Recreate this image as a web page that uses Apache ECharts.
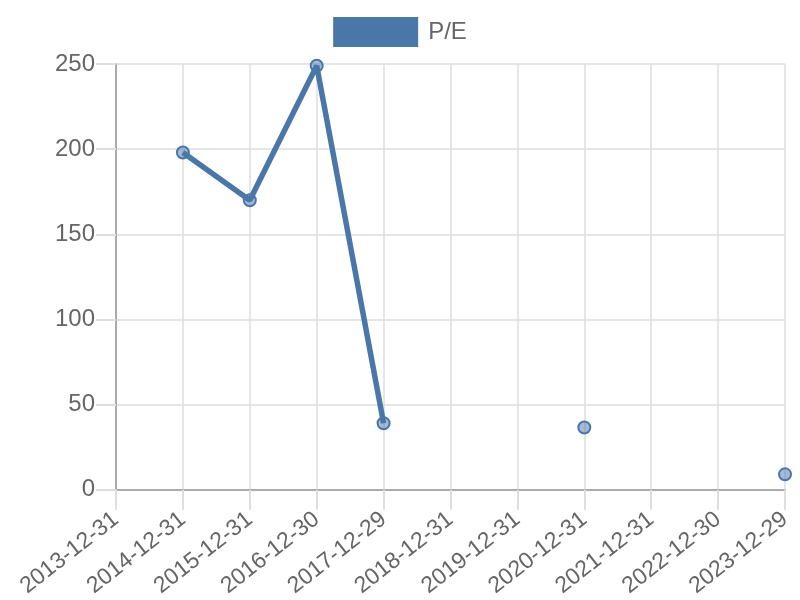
<!DOCTYPE html>
<html><head><meta charset="utf-8">
<script src="https://cdn.jsdelivr.net/npm/echarts@6/dist/echarts.min.js"></script>
<style>html,body{margin:0;padding:0;background:#fff}#c{width:800px;height:600px}</style>
</head><body><div id="c"></div>
<script>
const categories = ["2013-12-31","2014-12-31","2015-12-31","2016-12-30","2017-12-29","2018-12-31","2019-12-31","2020-12-31","2021-12-31","2022-12-30","2023-12-29"];
const peValues = [null, 198, 170, 249, 39, null, null, 36.5, null, null, 9];
const seriesName = "P/E";
const yTicks = {min: 0, max: 250, interval: 50};

const chart = echarts.init(document.getElementById('c'));
const lineColor = '#4a77a8';
const gridColor = '#dedede';
const axisColor = '#ababab';
const ff = 'Liberation Sans, Arial, sans-serif';
chart.setOption({
  animation: false,
  textStyle: {fontFamily: ff},
  legend: {
    top: 12, left: 'center', icon: 'rect', itemWidth: 85, itemHeight: 30, itemGap: 10,
    textStyle: {color: '#666', fontSize: 24, fontFamily: ff, padding: [0, 0, 0, 5]},
    data: [{name: seriesName, itemStyle: {color: lineColor, borderWidth: 0}}]
  },
  grid: {left: 116, right: 15, top: 64, bottom: 110, containLabel: false},
  xAxis: {
    type: 'category', data: categories, boundaryGap: false,
    axisLine: {show: true, lineStyle: {color: axisColor, width: 2}},
    axisTick: {show: true, length: 20, lineStyle: {color: gridColor, width: 2}},
    splitLine: {show: true, lineStyle: {color: gridColor, width: 1.5}},
    axisLabel: {rotate: 38, color: '#666', fontSize: 23, margin: 27, interval: 0, fontFamily: ff}
  },
  yAxis: {
    type: 'value', min: yTicks.min, max: yTicks.max, interval: yTicks.interval,
    axisLine: {show: true, lineStyle: {color: axisColor, width: 2}},
    axisTick: {show: true, length: 20, lineStyle: {color: gridColor, width: 2}},
    splitLine: {show: true, lineStyle: {color: gridColor, width: 1.5}},
    axisLabel: {color: '#666', fontSize: 24, margin: 21, fontFamily: ff}
  },
  series: [{
    name: seriesName, type: 'line', data: peValues, connectNulls: false,
    showSymbol: true, showAllSymbol: true, symbol: 'circle', symbolSize: 12,
    lineStyle: {color: lineColor, width: 5.5},
    itemStyle: {color: 'rgba(74,119,168,0.5)', borderColor: lineColor, borderWidth: 2},
    emphasis: {disabled: true}
  }]
});
</script></body></html>
